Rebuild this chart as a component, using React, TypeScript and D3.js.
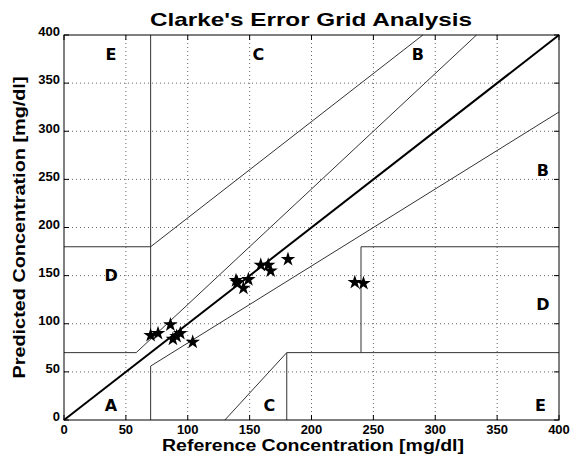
import React from "react";
import * as d3 from "d3";

const refValues = [70, 76, 86, 88, 91, 94, 104, 140, 145, 149, 139, 159, 165, 167, 181, 235, 242];
const predValues = [88, 90, 99, 84, 87, 90, 81, 143, 137, 146, 145, 161, 161, 155, 167, 143, 142];
const tickValues = [0, 50, 100, 150, 200, 250, 300, 350, 400];

// zone boundary segments [x1, y1, x2, y2]
const zoneSegments: [number, number, number, number][] = [
  [0, 70, 175 / 3, 70],
  [175 / 3, 70, 400 / 1.2, 400],
  [70, 84, 70, 400],
  [0, 180, 70, 180],
  [70, 180, 290, 400],
  [70, 0, 70, 56],
  [70, 56, 400, 320],
  [180, 0, 180, 70],
  [180, 70, 400, 70],
  [240, 70, 240, 180],
  [240, 180, 400, 180],
  [130, 0, 180, 70],
];

const zoneLabels = ["A", "B", "B", "C", "C", "D", "D", "E", "E"];
const zoneLabelX = [38, 387, 286, 157, 166, 38, 387, 38, 385];
const zoneLabelY = [15, 260, 380, 380, 15, 150, 120, 380, 15];

export default function App() {
  const W = 571, H = 456;
  const left = 64, right = 559, top = 35, bottom = 420;
  const x = d3.scaleLinear().domain([0, 400]).range([left, right]);
  const y = d3.scaleLinear().domain([0, 400]).range([bottom, top]);
  const star = d3.symbol().type(d3.symbolStar).size(66)();
  const font = "'Liberation Sans', Arial, Helvetica, sans-serif";
  const wide = "'DejaVu Sans', sans-serif";

  return (
    <svg width={W} height={H} style={{ position: "absolute", left: 0, top: 0, background: "#fff" }} fontFamily={font}>
      <rect x={0} y={0} width={W} height={H} fill="#fff" />
      {/* grid */}
      {tickValues.slice(1, -1).map((t) => (
        <g key={"g" + t}>
          <line x1={x(t)} x2={x(t)} y1={top} y2={bottom} stroke="#666" strokeWidth={1} strokeDasharray="1,3" />
          <line x1={left} x2={right} y1={y(t)} y2={y(t)} stroke="#666" strokeWidth={1} strokeDasharray="1,3" />
        </g>
      ))}
      {/* ticks */}
      {tickValues.map((t) => (
        <g key={"t" + t}>
          <line x1={x(t)} x2={x(t)} y1={bottom} y2={bottom - 5} stroke="#000" />
          <line x1={x(t)} x2={x(t)} y1={top} y2={top + 5} stroke="#000" />
          <line x1={left} x2={left + 5} y1={y(t)} y2={y(t)} stroke="#000" />
          <line x1={right} x2={right - 5} y1={y(t)} y2={y(t)} stroke="#000" />
        </g>
      ))}
      {/* zone lines */}
      {zoneSegments.map((s, i) => (
        <line key={"z" + i} x1={x(s[0])} y1={y(s[1])} x2={x(s[2])} y2={y(s[3])} stroke="#333" strokeWidth={1} />
      ))}
      {/* identity line */}
      <line x1={x(0)} y1={y(0)} x2={x(400)} y2={y(400)} stroke="#000" strokeWidth={2} />
      {/* zone labels */}
      {zoneLabels.map((l, i) => (
        <text key={"l" + i} x={x(zoneLabelX[i])} y={y(zoneLabelY[i])} dy="0.36em" textAnchor="middle" fontSize={16} fontWeight="bold" fontFamily={wide}>
          {l}
        </text>
      ))}
      {/* points */}
      {refValues.map((r, i) => (
        <path key={"p" + i} d={star} transform={`translate(${x(r)},${y(predValues[i])})`} fill="#000" />
      ))}
      {/* frame */}
      <rect x={left} y={top} width={right - left} height={bottom - top} fill="none" stroke="#000" strokeWidth={1} />
      {/* tick labels */}
      {tickValues.map((t) => (
        <text key={"xl" + t} x={x(t)} y={bottom + 14} textAnchor="middle" fontSize={13} fontWeight="bold">
          {t}
        </text>
      ))}
      {tickValues.map((t) => (
        <text key={"yl" + t} x={left - 4} y={y(t)} dy="0.1em" textAnchor="end" fontSize={13} fontWeight="bold">
          {t}
        </text>
      ))}
      <text x={313} y={451} textAnchor="middle" fontSize={16} fontWeight="bold" textLength={302} lengthAdjust="spacingAndGlyphs">
        Reference Concentration [mg/dl]
      </text>
      <text transform={`translate(25,${(top + bottom) / 2}) rotate(-90)`} textAnchor="middle" fontSize={16} fontWeight="bold" textLength={302} lengthAdjust="spacingAndGlyphs">
        Predicted Concentration [mg/dl]
      </text>
      <text x={311} y={26} textAnchor="middle" fontSize={19} fontWeight="bold" textLength={322} lengthAdjust="spacingAndGlyphs">
        Clarke's Error Grid Analysis
      </text>
    </svg>
  );
}
